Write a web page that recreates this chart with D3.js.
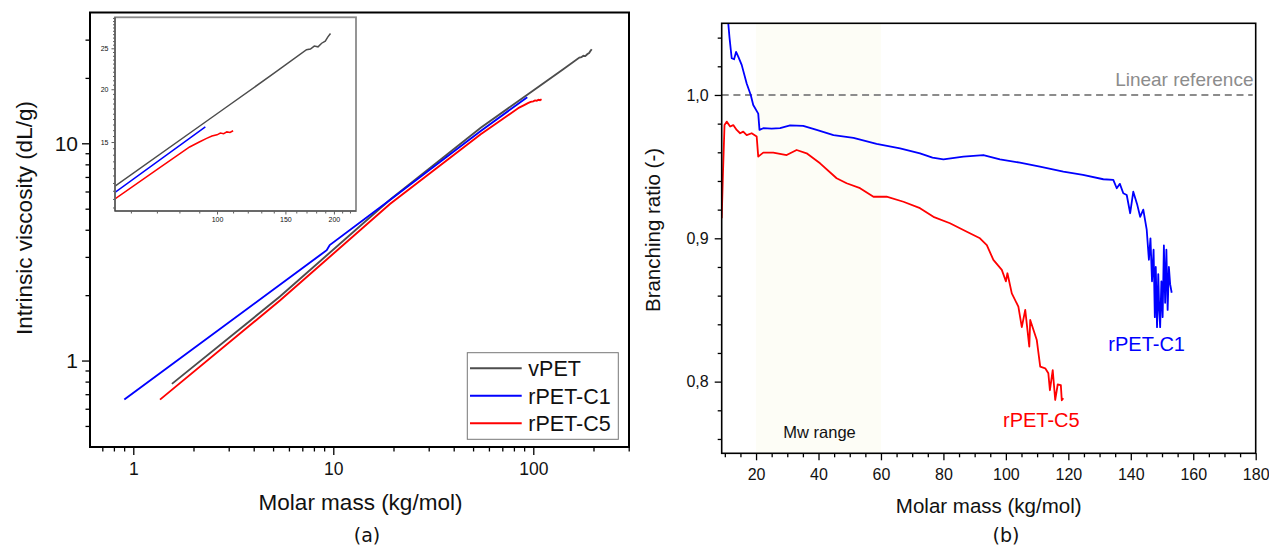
<!DOCTYPE html>
<html>
<head>
<meta charset="utf-8">
<script src="https://cdn.jsdelivr.net/npm/d3@7"></script>
<style>
  body { margin: 0; background: #fff; }
  svg { display: block; font-family: "Liberation Sans", Arial, sans-serif; }
</style>
</head>
<body>
<div id="chart"></div>
<script>
// ---- panel (a): intrinsic viscosity vs molar mass (kg/mol, dL/g)
const massVPET = [1.56, 5.41, 19.2, 54.6, 100, 140, 170, 174, 178, 182, 186, 190, 193, 196];
const viscVPET = [0.781, 1.97, 5.5, 11.8, 17.5, 21.8, 24.8, 24.9, 25.3, 25.2, 25.7, 26.0, 26.6, 27.1];
const massC1 = [0.902, 9.27, 9.6, 19.2, 54.6, 93.3];
const viscC1 = [0.661, 3.22, 3.4, 5.48, 11.4, 16.3];
const massC5 = [1.36, 5.41, 19.2, 54.6, 70, 85, 90, 94, 97, 100, 102, 104, 106, 108, 110];
const viscC5 = [0.661, 1.89, 5.25, 11.0, 12.9, 14.6, 15.0, 15.3, 15.5, 15.6, 15.75, 15.7, 15.85, 15.8, 15.95];

const seriesNames = ["vPET", "rPET-C1", "rPET-C5"];
const seriesColors = ["#4d4d4d", "#0000ff", "#ff0000"];

const xTicksA = [1, 10, 100];
const yTicksA = [1, 10];
const insetXTicks = [100, 150, 200];
const insetYTicks = [15, 20, 25];

// ---- panel (b): branching ratio vs molar mass
const brMassC1 = [10.7, 11.5, 12.2, 12.96, 13.6, 14.3, 15.4, 17.0, 18.3, 19.1, 20.7, 21.1, 22.3, 25, 27.7,
  30.9, 35.1, 39.4, 44.8, 51.2, 58.6, 66.1, 72.5, 76.5, 80.0, 86.4, 92.8, 98.1, 104.5, 110.9, 118.4,
  124.7, 131.2, 134.4, 135.5, 136.5, 137.6, 138.7, 139.8, 140.8, 142, 143, 144, 145.1, 145.8, 146.3,
  146.8, 147.3, 147.7, 148.0, 148.4, 148.8, 149.1, 149.4, 149.8, 150.2, 150.6, 151.0, 151.4, 151.8,
  152.2, 152.6, 153.1];
const brRatioC1 = [1.06, 1.04, 1.0256, 1.0249, 1.03, 1.0267, 1.021, 1.008, 1.0, 0.993, 0.987, 0.9756,
  0.9768, 0.9765, 0.9768, 0.9788, 0.9784, 0.9756, 0.972, 0.97, 0.9658, 0.9628, 0.9593, 0.9563, 0.9551,
  0.957, 0.9581, 0.9551, 0.9528, 0.95, 0.9465, 0.9442, 0.9412, 0.9407, 0.9349, 0.938, 0.9314, 0.9302,
  0.9175, 0.9325, 0.924, 0.915, 0.92, 0.906, 0.885, 0.9, 0.87, 0.892, 0.845, 0.88, 0.838, 0.875, 0.85,
  0.838, 0.87, 0.845, 0.895, 0.855, 0.892, 0.85, 0.88, 0.868, 0.862];
const brMassC5 = [9.0, 9.4, 9.9, 10.6, 11.7, 12.7, 13.8, 14.9, 15.9, 17.0, 18.6, 20.2, 20.7, 22.3, 25.5,
  29.8, 33.0, 36.2, 40.5, 45.8, 49.0, 53.3, 57.6, 61.8, 67.2, 72.5, 76.8, 82.1, 87.5, 91.7, 93.9, 96.0,
  98.7, 100.0, 100.5, 101.9, 104.0, 105.1, 106.2, 107.5, 107.8, 109.9, 111.0, 112.6, 113.6, 114.1,
  115.0, 115.8, 116.6, 117.6, 117.9, 118.4];
const brRatioC5 = [0.914, 0.945, 0.979, 0.9814, 0.978, 0.979, 0.9756, 0.9733, 0.9744, 0.972, 0.9733,
  0.971, 0.957, 0.9598, 0.9598, 0.9581, 0.9616, 0.9593, 0.9523, 0.9419, 0.9384, 0.935, 0.929, 0.929,
  0.9255, 0.921, 0.915, 0.9105, 0.9046, 0.9, 0.8953, 0.8849, 0.878, 0.87, 0.8756, 0.8616, 0.8523, 0.838,
  0.85, 0.8244, 0.843, 0.829, 0.8104, 0.8093, 0.8058, 0.794, 0.808, 0.7872, 0.798, 0.7976, 0.787, 0.7884];

const xTicksB = [20, 40, 60, 80, 100, 120, 140, 160, 180];
const yTicksB = [0.8, 0.9, 1.0];
const linearRef = 1.0;
const mwRange = [20, 60];

const zip = (xs, ys) => xs.map((x, i) => [x, ys[i]]);
const seriesA = [zip(massVPET, viscVPET), zip(massC1, viscC1), zip(massC5, viscC5)];

const svg = d3.select("#chart").append("svg")
  .attr("width", 1269)
  .attr("height", 548);

// log minor ticks between lo and hi
function logMinor(lo, hi) {
  var out = [];
  for (var e = -1; e <= 3; e++) {
    for (var k = 2; k <= 9; k++) {
      var v = k * Math.pow(10, e);
      if (v > lo * 1.001 && v < hi * 0.999) out.push(v);
    }
  }
  return out;
}

function styleAxis(g, size) {
  g.select(".domain").remove();
  g.selectAll("line").attr("stroke", "#000").attr("stroke-width", 1.3);
  g.attr("font-family", null);
  g.selectAll("text")
    .attr("font-size", size)
    .attr("fill", "#111");
}

// ================= panel (a)
const A = { left: 90, right: 629, top: 12.5, bottom: 447 };
const xA = d3.scaleLog().domain([0.6075, 301]).range([A.left, A.right]);
const yA = d3.scaleLog().domain([0.4, 40]).range([A.bottom, A.top]);

const gA = svg.append("g");

gA.append("clipPath").attr("id", "clipA")
  .append("rect").attr("x", A.left).attr("y", A.top)
  .attr("width", A.right - A.left).attr("height", A.bottom - A.top);

const lineA = d3.line().x((d) => xA(d[0])).y((d) => yA(d[1]));
seriesA.forEach((s, i) => {
  gA.append("path")
    .attr("d", lineA(s))
    .attr("clip-path", "url(#clipA)")
    .attr("fill", "none")
    .attr("stroke", seriesColors[i])
    .attr("stroke-width", 1.9);
});

// axes (a)
gA.append("g")
  .attr("transform", `translate(0,${A.bottom})`)
  .call(d3.axisBottom(xA).tickValues(logMinor(0.6075, 301)).tickSize(4.5).tickFormat(""))
  .call((g) => styleAxis(g, 10));
gA.append("g")
  .attr("transform", `translate(0,${A.bottom})`)
  .call(d3.axisBottom(xA).tickValues(xTicksA).tickSize(8).tickPadding(8).tickFormat(d3.format("d")))
  .call((g) => styleAxis(g, 17.5));
gA.append("g")
  .attr("transform", `translate(${A.left},0)`)
  .call(d3.axisLeft(yA).tickValues(logMinor(0.4, 40)).tickSize(4.5).tickFormat(""))
  .call((g) => styleAxis(g, 10));
gA.append("g")
  .attr("transform", `translate(${A.left},0)`)
  .call(d3.axisLeft(yA).tickValues(yTicksA).tickSize(8).tickPadding(4).tickFormat(d3.format("d")))
  .call((g) => styleAxis(g, 21));

gA.append("rect")
  .attr("x", A.left).attr("y", A.top)
  .attr("width", A.right - A.left).attr("height", A.bottom - A.top)
  .attr("fill", "none").attr("stroke", "#000").attr("stroke-width", 2);

gA.append("text")
  .attr("x", 360.5).attr("y", 510)
  .attr("text-anchor", "middle")
  .attr("font-size", 22.5)
  .attr("fill", "#111")
  .text("Molar mass (kg/mol)");
gA.append("text")
  .attr("transform", "translate(31.5,218) rotate(-90)")
  .attr("text-anchor", "middle")
  .attr("font-size", 22.5)
  .attr("fill", "#111")
  .text("Intrinsic viscosity (dL/g)");
gA.append("text")
  .attr("x", 367).attr("y", 542)
  .attr("text-anchor", "middle")
  .style("font-family", '"DejaVu Sans", Verdana, sans-serif')
  .attr("font-size", 19)
  .attr("fill", "#111")
  .text("(a)");

// legend
const leg = gA.append("g");
leg.append("rect")
  .attr("x", 467.3).attr("y", 352.7).attr("width", 151).attr("height", 86.6)
  .attr("fill", "#fff").attr("stroke", "#777").attr("stroke-width", 1);
seriesNames.forEach((name, i) => {
  var ly = 368.3 + i * 27.5;
  leg.append("line")
    .attr("x1", 470).attr("x2", 521.7).attr("y1", ly).attr("y2", ly)
    .attr("stroke", seriesColors[i]).attr("stroke-width", 1.9);
  leg.append("text")
    .attr("x", 528.3).attr("y", ly).attr("dy", "0.36em")
    .attr("font-size", 21.5).attr("fill", "#111")
    .text(name);
});

// inset (zoom on high molar mass)
const I = { left: 115, right: 356, top: 17.3, bottom: 211 };
const xI = d3.scaleLog().domain([54.6, 228]).range([I.left, I.right]);
const yI = d3.scaleLog().domain([10.3, 29.6]).range([I.bottom, I.top]);
const gI = gA.append("g");
gI.append("rect")
  .attr("x", I.left).attr("y", I.top)
  .attr("width", I.right - I.left).attr("height", I.bottom - I.top)
  .attr("fill", "#fff");
gI.append("clipPath").attr("id", "clipI")
  .append("rect").attr("x", I.left).attr("y", I.top)
  .attr("width", I.right - I.left).attr("height", I.bottom - I.top);
const lineI = d3.line().x((d) => xI(d[0])).y((d) => yI(d[1]));
seriesA.forEach((s, i) => {
  gI.append("path")
    .attr("d", lineI(s))
    .attr("clip-path", "url(#clipI)")
    .attr("fill", "none")
    .attr("stroke", seriesColors[i])
    .attr("stroke-width", 1.5);
});
gI.append("g")
  .attr("transform", `translate(0,${I.bottom})`)
  .call(d3.axisBottom(xI).tickValues(d3.range(60, 230, 10).filter((v) => v % 50 != 0)).tickSize(2.5).tickFormat(""))
  .call((g) => styleAxis(g, 7));
gI.append("g")
  .attr("transform", `translate(0,${I.bottom})`)
  .call(d3.axisBottom(xI).tickValues(insetXTicks).tickSize(3.5).tickPadding(3).tickFormat(d3.format("d")))
  .call((g) => styleAxis(g, 7));
gI.append("g")
  .attr("transform", `translate(${I.left},0)`)
  .call(d3.axisLeft(yI).tickValues(d3.range(10.5, 29.6, 0.5).filter((v) => v % 5 != 0)).tickSize(2).tickFormat(""))
  .call((g) => styleAxis(g, 7));
gI.append("g")
  .attr("transform", `translate(${I.left},0)`)
  .call(d3.axisLeft(yI).tickValues(insetYTicks).tickSize(3.5).tickPadding(3).tickFormat(d3.format("d")))
  .call((g) => styleAxis(g, 7));
gI.selectAll("line").attr("stroke-width", 0.8).attr("stroke", "#333");
gI.append("rect")
  .attr("x", I.left).attr("y", I.top)
  .attr("width", I.right - I.left).attr("height", I.bottom - I.top)
  .attr("fill", "none").attr("stroke", "#8a8a8a").attr("stroke-width", 1.8);
gI.append("line")
  .attr("x1", I.left).attr("x2", I.right).attr("y1", I.bottom).attr("y2", I.bottom)
  .attr("stroke", "#333").attr("stroke-width", 0.9);
gI.append("line")
  .attr("x1", I.left).attr("x2", I.left).attr("y1", I.top).attr("y2", I.bottom)
  .attr("stroke", "#333").attr("stroke-width", 0.9);

// ================= panel (b)
const B = { left: 721.7, right: 1255.7, top: 23.3, bottom: 453.3 };
const xB = d3.scaleLinear().domain([9, 180]).range([B.left, B.right]);
const yB = d3.scaleLinear().domain([0.75, 1.05]).range([B.bottom, B.top]);
const gB = svg.append("g");

gB.append("rect")
  .attr("x", xB(mwRange[0])).attr("y", B.top)
  .attr("width", xB(mwRange[1]) - xB(mwRange[0])).attr("height", B.bottom - B.top)
  .attr("fill", "#fdfdf6");

gB.append("text")
  .attr("x", 783.3).attr("y", 438.3)
  .attr("font-size", 16.5).attr("fill", "#111")
  .text("Mw range");

gB.append("line")
  .attr("x1", B.left).attr("x2", B.right - 3)
  .attr("y1", yB(linearRef)).attr("y2", yB(linearRef))
  .attr("stroke", "#8c8c8c").attr("stroke-width", 2)
  .attr("stroke-dasharray", "7,4.7");
gB.append("text")
  .attr("x", 1253.5).attr("y", 86)
  .attr("text-anchor", "end")
  .attr("font-size", 19).attr("fill", "#8c8c8c")
  .text("Linear reference");

gB.append("clipPath").attr("id", "clipB")
  .append("rect").attr("x", B.left).attr("y", B.top)
  .attr("width", B.right - B.left).attr("height", B.bottom - B.top);

const lineB = d3.line().x((d) => xB(d[0])).y((d) => yB(d[1]));
[[zip(brMassC1, brRatioC1), seriesColors[1]], [zip(brMassC5, brRatioC5), seriesColors[2]]].forEach((s) => {
  gB.append("path")
    .attr("d", lineB(s[0]))
    .attr("clip-path", "url(#clipB)")
    .attr("fill", "none")
    .attr("stroke", s[1])
    .attr("stroke-width", 1.8)
    .attr("stroke-linejoin", "round");
});

gB.append("text")
  .attr("x", 1108.3).attr("y", 351)
  .attr("font-size", 20).attr("fill", seriesColors[1])
  .text("rPET-C1");
gB.append("text")
  .attr("x", 1003).attr("y", 426.7)
  .attr("font-size", 20).attr("fill", seriesColors[2])
  .text("rPET-C5");

// axes (b)
gB.append("g")
  .attr("transform", `translate(0,${B.bottom})`)
  .call(d3.axisBottom(xB).tickValues(d3.range(10, 180, 5).filter((v) => v % 20 != 0)).tickSize(4).tickFormat(""))
  .call((g) => styleAxis(g, 10));
gB.append("g")
  .attr("transform", `translate(0,${B.bottom})`)
  .call(d3.axisBottom(xB).tickValues(xTicksB).tickSize(7).tickPadding(8).tickFormat(d3.format("d")))
  .call((g) => styleAxis(g, 16));
gB.append("g")
  .attr("transform", `translate(${B.left},0)`)
  .call(d3.axisLeft(yB).tickValues(d3.range(0.76, 1.05, 0.02).filter((v) => Math.abs(v * 10 - Math.round(v * 10)) > 0.01)).tickSize(4).tickFormat(""))
  .call((g) => styleAxis(g, 10));
gB.append("g")
  .attr("transform", `translate(${B.left},0)`)
  .call(d3.axisLeft(yB).tickValues(yTicksB).tickSize(7).tickPadding(6).tickFormat((d) => d.toFixed(1).replace(".", ",")))
  .call((g) => styleAxis(g, 16));

gB.append("rect")
  .attr("x", B.left).attr("y", B.top)
  .attr("width", B.right - B.left).attr("height", B.bottom - B.top)
  .attr("fill", "none").attr("stroke", "#000").attr("stroke-width", 1.6);

gB.append("text")
  .attr("x", 988.7).attr("y", 513)
  .attr("text-anchor", "middle")
  .attr("font-size", 20.5).attr("fill", "#111")
  .text("Molar mass (kg/mol)");
gB.append("text")
  .attr("transform", "translate(660,230) rotate(-90)")
  .attr("text-anchor", "middle")
  .attr("font-size", 20.5).attr("fill", "#111")
  .text("Branching ratio (-)");
gB.append("text")
  .attr("x", 1006).attr("y", 542)
  .attr("text-anchor", "middle")
  .style("font-family", '"DejaVu Sans", Verdana, sans-serif')
  .attr("font-size", 19).attr("fill", "#111")
  .text("(b)");
</script>
</body>
</html>
